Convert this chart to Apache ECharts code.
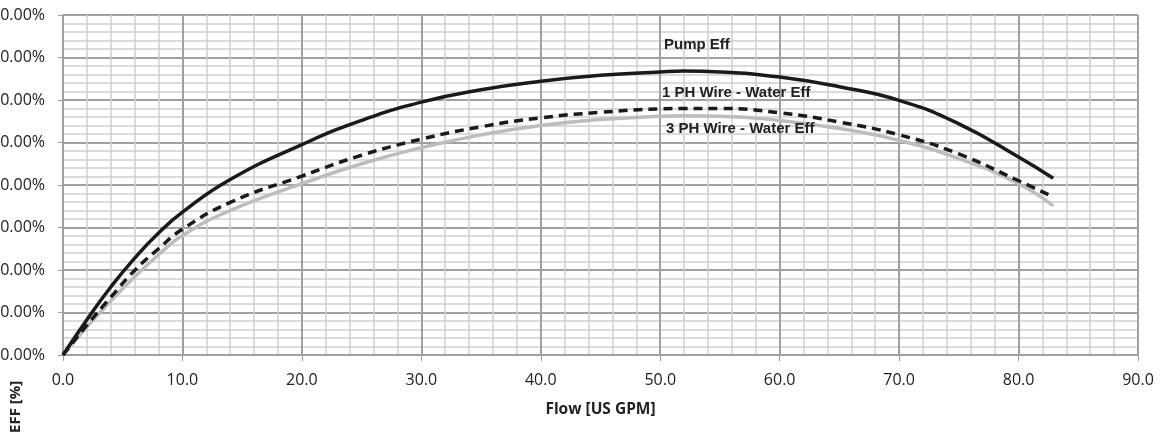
<!DOCTYPE html>
<html>
<head>
<meta charset="utf-8">
<script src="https://cdn.jsdelivr.net/npm/echarts@6/dist/echarts.min.js"></script>
<style>
html,body{margin:0;padding:0;background:#fff;}
#c{width:1161px;height:435px;}
</style>
</head>
<body>
<div id="c"></div>
<script>
const flow = [0, 2, 4, 6, 8, 10, 14, 20, 25, 30, 35, 40, 45, 50, 52, 55, 60, 65, 70, 75, 80, 82.9];
const pumpEff = [0, 8.3, 16.0, 22.8, 28.7, 33.6, 41.3, 49.5, 55.2, 59.5, 62.4, 64.4, 65.8, 66.6, 66.8, 66.6, 65.4, 63.1, 59.9, 54.4, 46.6, 41.6];
const ph1Eff = [0, 7.0, 13.6, 19.9, 25.0, 29.6, 35.9, 42.1, 47.0, 50.8, 53.7, 55.8, 57.1, 57.9, 58.0, 58.0, 57.0, 54.8, 51.8, 47.3, 41.0, 37.2];
const ph3Eff = [0, 6.6, 12.7, 18.4, 23.6, 28.1, 34.0, 40.3, 45.0, 48.8, 51.8, 54.0, 55.4, 56.2, 56.3, 56.2, 55.2, 53.3, 50.5, 46.2, 40.3, 35.1];
const seriesNames = ['Pump Eff', '1 PH Wire - Water Eff', '3 PH Wire - Water Eff'];
const xTitle = 'Flow [US GPM]';
const yTitle = 'EFF [%]';

const pairs = arr => flow.map((x, i) => [x, arr[i]]);
const chart = echarts.init(document.getElementById('c'), null, {renderer: 'canvas'});
const tickFont = '"Open Sans", "Liberation Sans", sans-serif';
const lblFont = '"Liberation Sans", Arial, sans-serif';
chart.setOption({
  animation: false,
  backgroundColor: '#fff',
  grid: {left: 63, right: 23, top: 15, bottom: 80, containLabel: false, outerBoundsMode: 'none'},
  xAxis: {
    type: 'value', min: 0, max: 90, interval: 10,
    name: xTitle, nameLocation: 'middle', nameGap: 47,
    nameTextStyle: {fontFamily: tickFont, fontWeight: 'bold', fontSize: 15.5, color: '#222'},
    axisLine: {show: true, lineStyle: {color: '#a0a0a0', width: 2}},
    axisTick: {show: true, length: 6, lineStyle: {color: '#a0a0a0', width: 1}},
    axisLabel: {margin: 17, fontFamily: tickFont, fontSize: 16, color: '#222', formatter: v => v.toFixed(1)},
    splitLine: {show: true, lineStyle: {color: '#a0a0a0', width: 2}},
    minorTick: {show: false, splitNumber: 5},
    minorSplitLine: {show: true, lineStyle: {color: '#d0d0d0', width: 1.5}}
  },
  yAxis: {
    type: 'value', min: 0, max: 80, interval: 10,
    axisLine: {show: true, lineStyle: {color: '#a0a0a0', width: 2}},
    axisTick: {show: true, length: 5, lineStyle: {color: '#a0a0a0', width: 1}},
    axisLabel: {margin: 18, fontFamily: tickFont, fontSize: 16, color: '#222', formatter: v => v.toFixed(2) + '%'},
    splitLine: {show: true, lineStyle: {color: '#a0a0a0', width: 2}},
    minorTick: {show: false, splitNumber: 5},
    minorSplitLine: {show: true, lineStyle: {color: '#d0d0d0', width: 1.5}}
  },
  series: [
    {name: seriesNames[2], type: 'line', data: pairs(ph3Eff), smooth: 0.5, showSymbol: false,
     lineStyle: {color: '#bdbdbd', width: 3.5}, z: 3},
    {name: seriesNames[1], type: 'line', data: pairs(ph1Eff), smooth: 0.5, showSymbol: false,
     lineStyle: {color: '#1a1a1a', width: 3.5, type: [9, 6]}, z: 4},
    {name: seriesNames[0], type: 'line', data: pairs(pumpEff), smooth: 0.5, showSymbol: false,
     lineStyle: {color: '#1a1a1a', width: 3.5}, z: 5}
  ],
  graphic: [
    {type: 'text', left: 664, top: 37, z: 10, style: {text: seriesNames[0], font: 'bold 15px ' + lblFont, fill: '#222'}},
    {type: 'text', left: 662, top: 85, z: 10, style: {text: seriesNames[1], font: 'bold 15px ' + lblFont, fill: '#222'}},
    {type: 'text', left: 666, top: 121, z: 10, style: {text: seriesNames[2], font: 'bold 15px ' + lblFont, fill: '#222'}},
    {type: 'text', x: 8, y: 433, rotation: Math.PI / 2, z: 10,
     style: {text: yTitle, font: 'bold 15px ' + tickFont, fill: '#222', textAlign: 'left', textVerticalAlign: 'top'}}
  ]
});
</script>
</body>
</html>
